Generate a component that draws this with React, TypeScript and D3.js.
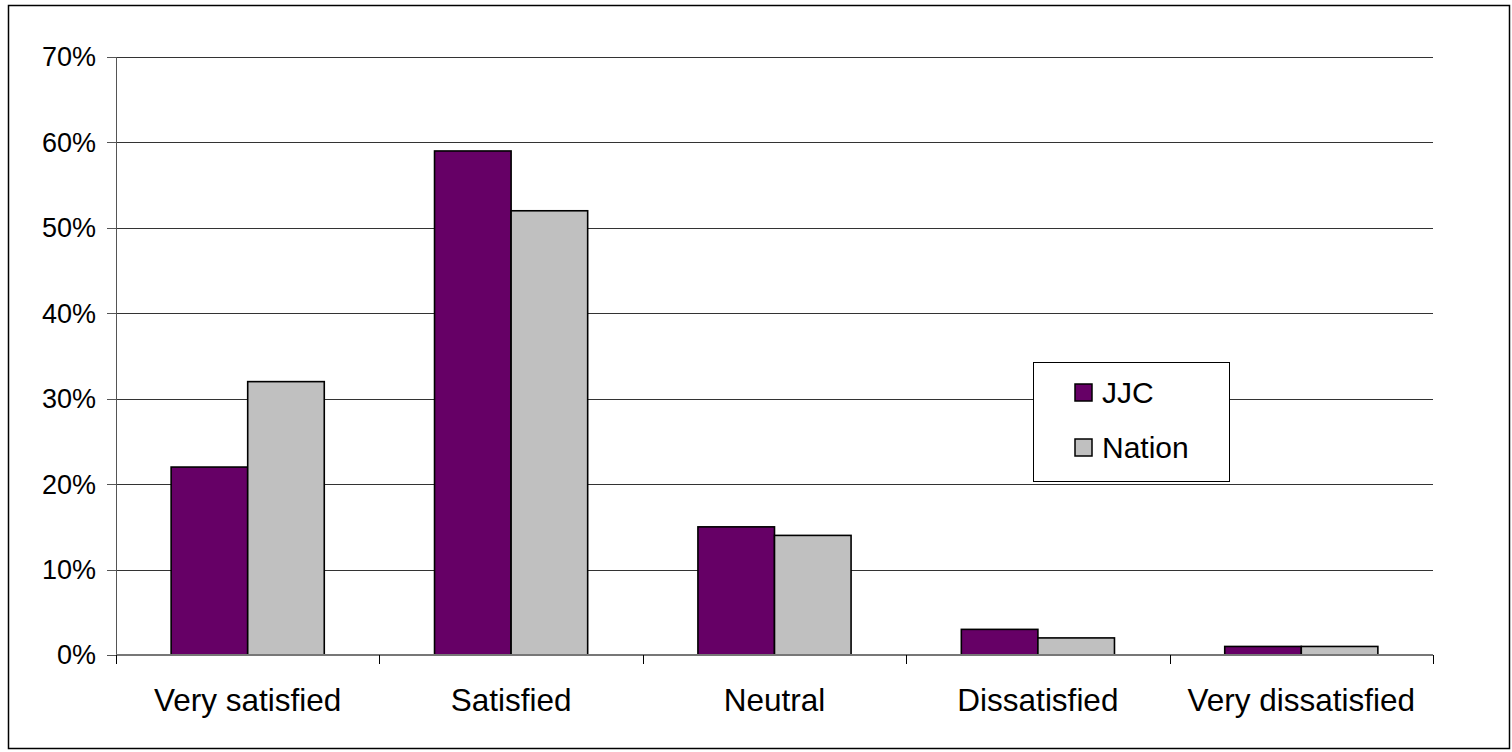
import React from "react";
import * as d3 from "d3";

const categories = ["Very satisfied", "Satisfied", "Neutral", "Dissatisfied", "Very dissatisfied"];
const seriesNames = ["JJC", "Nation"];
const jjcValues = [0.22, 0.59, 0.15, 0.03, 0.01];
const nationValues = [0.32, 0.52, 0.14, 0.02, 0.01];
const yTicks = [0, 0.1, 0.2, 0.3, 0.4, 0.5, 0.6, 0.7];
const colors = ["#660066", "#C0C0C0"];

const W = 1512;
const H = 752;
const FONT = "'Liberation Sans', Arial, sans-serif";

export default function App() {
  const left = 116, right = 1433, top = 57, bottom = 655;
  const y = d3.scaleLinear().domain([0, 0.7]).range([bottom, top]);
  const x = d3.scaleBand<string>().domain(categories).range([left, right]).padding(0);
  const inner = d3.scaleBand<string>().domain(seriesNames).range([0, x.bandwidth()]).paddingInner(0).paddingOuter(0.72);
  const series = [jjcValues, nationValues];
  const fmt = d3.format(".0%");

  return (
    <svg width={W} height={H} style={{ position: "absolute", left: 0, top: 0, background: "#fff" }}>
      <rect x={8.5} y={5.5} width={1501} height={743} fill="#fff" stroke="#000" strokeWidth={1.5} />
      {/* gridlines */}
      {yTicks.filter((t) => t > 0).map((t) => (
        <line key={t} x1={left} x2={right} y1={Math.round(y(t)) + 0.5} y2={Math.round(y(t)) + 0.5} stroke="#333" strokeWidth={1} />
      ))}
      {/* y ticks & labels */}
      {yTicks.map((t) => (
        <g key={"yt" + t}>
          <line x1={107} x2={left} y1={Math.round(y(t)) + 0.5} y2={Math.round(y(t)) + 0.5} stroke="#555" strokeWidth={1} />
          <text x={96} y={y(t)} dy="0.35em" textAnchor="end" fontFamily={FONT} fontSize={27} fill="#000">
            {fmt(t)}
          </text>
        </g>
      ))}
      {/* y axis */}
      <line x1={left + 0.5} x2={left + 0.5} y1={top} y2={bottom} stroke="#555" strokeWidth={1} />
      {/* bars */}
      {categories.map((c, i) =>
        seriesNames.map((s, j) => {
          const x0 = (x(c) as number) + (inner(s) as number);
          const v = series[j][i];
          return (
            <rect
              key={c + s}
              x={x0}
              y={y(v)}
              width={inner.bandwidth()}
              height={bottom - y(v)}
              fill={colors[j]}
              stroke="#000"
              strokeWidth={1.6}
            />
          );
        })
      )}
      {/* x axis */}
      <line x1={left} x2={right} y1={bottom} y2={bottom} stroke="#777" strokeWidth={2} />
      {categories.map((c) => (
        <line key={"xt" + c} x1={Math.round(x(c) as number) + 0.5} x2={Math.round(x(c) as number) + 0.5} y1={bottom} y2={664} stroke="#000" strokeWidth={1} />
      ))}
      <line x1={right + 0.5} x2={right + 0.5} y1={bottom} y2={664} stroke="#000" strokeWidth={1} />
      {categories.map((c) => (
        <text key={"xl" + c} x={(x(c) as number) + x.bandwidth() / 2} y={711} textAnchor="middle" fontFamily={FONT} fontSize={31.5} fill="#000">
          {c}
        </text>
      ))}
      {/* legend */}
      <rect x={1033.5} y={362.5} width={196} height={119} fill="#fff" stroke="#000" strokeWidth={1} />
      {seriesNames.map((s, j) => (
        <g key={"lg" + s}>
          <rect x={1075} y={384 + j * 55} width={17} height={17} fill={colors[j]} stroke="#000" strokeWidth={1.5} />
          <text x={1102} y={403 + j * 55} fontFamily={FONT} fontSize={30} fill="#000">
            {s}
          </text>
        </g>
      ))}
    </svg>
  );
}
